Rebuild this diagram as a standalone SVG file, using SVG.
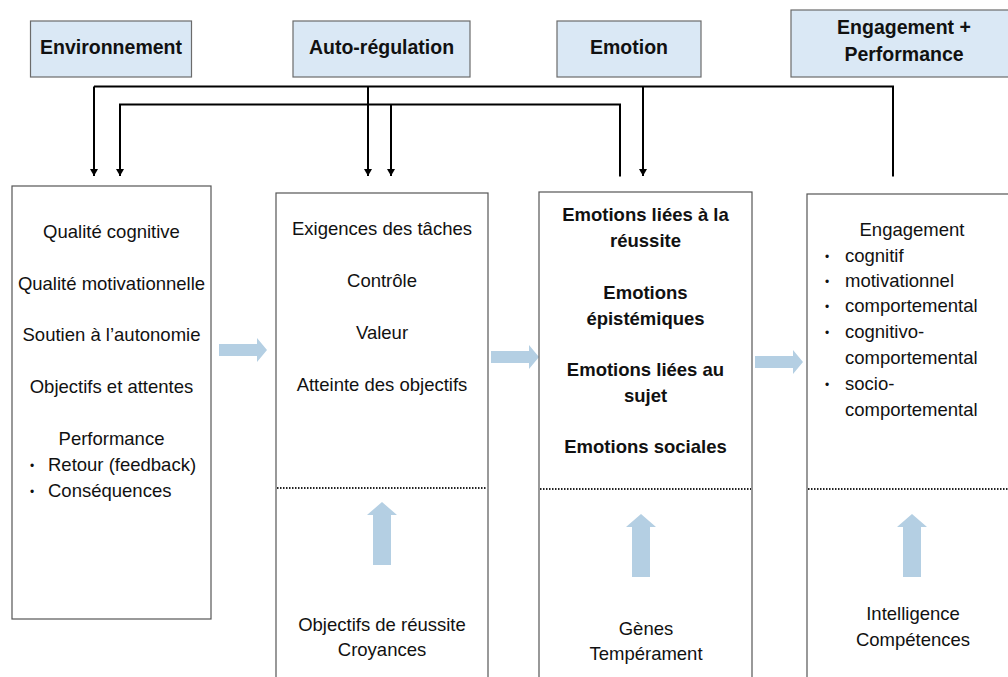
<svg xmlns="http://www.w3.org/2000/svg" width="1008" height="677" viewBox="0 0 1008 677">
<defs>
<marker id="ah" viewBox="0 0 7 8" refX="7" refY="4" markerWidth="7" markerHeight="8" markerUnits="userSpaceOnUse" orient="auto">
<path d="M0,0 L7,4 L0,8 Z" fill="#000"/>
</marker>
<path id="rarrow" d="M0,-6 H38 V-12 L48,0 L38,12 V6 H0 Z"/>
<path id="uarrow" d="M-9,0 V-50 H-15 L0,-63 L15,-50 H9 V0 Z"/>
</defs>
<style>
.hdr{fill:#dae8f5;stroke:#6b6b6b;stroke-width:1.2}
.box{fill:#fff;stroke:#555;stroke-width:1.2}
.ht{font-family:"Liberation Sans",Arial,sans-serif;font-weight:bold;font-size:19.5px;fill:#111;text-anchor:middle}
.t{font-family:"Liberation Sans",Arial,sans-serif;font-size:18.5px;fill:#111;text-anchor:middle}
.tl{font-family:"Liberation Sans",Arial,sans-serif;font-size:18.5px;fill:#111}
.tb{font-family:"Liberation Sans",Arial,sans-serif;font-size:18.5px;font-weight:bold;fill:#111;text-anchor:middle}
.bul{font-family:"Liberation Sans",Arial,sans-serif;font-size:12px;fill:#111}
.dot{stroke:#222;stroke-width:2;stroke-dasharray:1.5 1.5;fill:none}
.conn{stroke:#000;stroke-width:2;fill:none}
.ba{fill:#b4cfe3}
</style>
<rect width="1008" height="677" fill="#fff"/>

<g id="hdr-env"><rect class="hdr" x="30.5" y="21" width="161" height="56"/><text class="ht" x="111" y="53.5">Environnement</text></g>
<g id="hdr-auto"><rect class="hdr" x="293" y="21" width="177" height="56"/><text class="ht" x="381.5" y="53.5">Auto-régulation</text></g>
<g id="hdr-emo"><rect class="hdr" x="557" y="21" width="144" height="56"/><text class="ht" x="629" y="53.5">Emotion</text></g>
<g id="hdr-eng"><rect class="hdr" x="791" y="10" width="230" height="67"/><text class="ht" x="904" y="34">Engagement +</text><text class="ht" x="904" y="61">Performance</text></g>

<g id="connectors">
<path class="conn" d="M893,176.5 V86.5 H94"/>
<path class="conn" d="M94,86.5 V176" marker-end="url(#ah)"/>
<path class="conn" d="M368,86.5 V176" marker-end="url(#ah)"/>
<path class="conn" d="M643,86.5 V176" marker-end="url(#ah)"/>
<path class="conn" d="M620,176.5 V104.5 H120 V176" marker-end="url(#ah)"/>
<path class="conn" d="M391,104.5 V176" marker-end="url(#ah)"/>
<use href="#rarrow" class="ba" x="219" y="350"/>
<use href="#rarrow" class="ba" x="491" y="357"/>
<use href="#rarrow" class="ba" x="755" y="362"/>
</g>

<g id="box-env">
<rect class="box" x="12" y="186" width="199" height="433"/>
<text class="t" x="111.5" y="238">Qualité cognitive</text>
<text class="t" x="111.5" y="290">Qualité motivationnelle</text>
<text class="t" x="111.5" y="341">Soutien à l’autonomie</text>
<text class="t" x="111.5" y="393">Objectifs et attentes</text>
<text class="t" x="111.5" y="445">Performance</text>
<text class="bul" x="30" y="470">•</text><text class="tl" x="48" y="471">Retour (feedback)</text>
<text class="bul" x="30" y="496">•</text><text class="tl" x="48" y="497">Conséquences</text>
</g>

<g id="box-auto">
<rect class="box" x="276" y="193" width="212" height="500"/>
<text class="t" x="382" y="235">Exigences des tâches</text>
<text class="t" x="382" y="287">Contrôle</text>
<text class="t" x="382" y="339">Valeur</text>
<text class="t" x="382" y="391">Atteinte des objectifs</text>
<line class="dot" x1="277" y1="488" x2="487" y2="488"/>
<use href="#uarrow" class="ba" x="382" y="565"/>
<text class="t" x="382" y="631">Objectifs de réussite</text>
<text class="t" x="382" y="656">Croyances</text>
</g>

<g id="box-emo">
<rect class="box" x="539" y="192" width="213" height="500"/>
<text class="tb" x="645.5" y="221">Emotions liées à la</text>
<text class="tb" x="645.5" y="247">réussite</text>
<text class="tb" x="645.5" y="299">Emotions</text>
<text class="tb" x="645.5" y="325">épistémiques</text>
<text class="tb" x="645.5" y="376">Emotions liées au</text>
<text class="tb" x="645.5" y="402">sujet</text>
<text class="tb" x="645.5" y="453">Emotions sociales</text>
<line class="dot" x1="540" y1="489" x2="751" y2="489"/>
<use href="#uarrow" class="ba" x="641" y="577"/>
<text class="t" x="646" y="635">Gènes</text>
<text class="t" x="646" y="660">Tempérament</text>
</g>

<g id="box-eng">
<rect class="box" x="807" y="194" width="220" height="500"/>
<text class="t" x="912" y="236">Engagement</text>
<text class="bul" x="825" y="261">•</text><text class="tl" x="845" y="262">cognitif</text>
<text class="bul" x="825" y="286">•</text><text class="tl" x="845" y="287">motivationnel</text>
<text class="bul" x="825" y="311">•</text><text class="tl" x="845" y="312">comportemental</text>
<text class="bul" x="825" y="337">•</text><text class="tl" x="845" y="338">cognitivo-</text>
<text class="tl" x="845" y="364">comportemental</text>
<text class="bul" x="825" y="389">•</text><text class="tl" x="845" y="390">socio-</text>
<text class="tl" x="845" y="416">comportemental</text>
<line class="dot" x1="808" y1="489" x2="1008" y2="489"/>
<use href="#uarrow" class="ba" x="912" y="577"/>
<text class="t" x="913" y="620">Intelligence</text>
<text class="t" x="913" y="646">Compétences</text>
</g>
</svg>
